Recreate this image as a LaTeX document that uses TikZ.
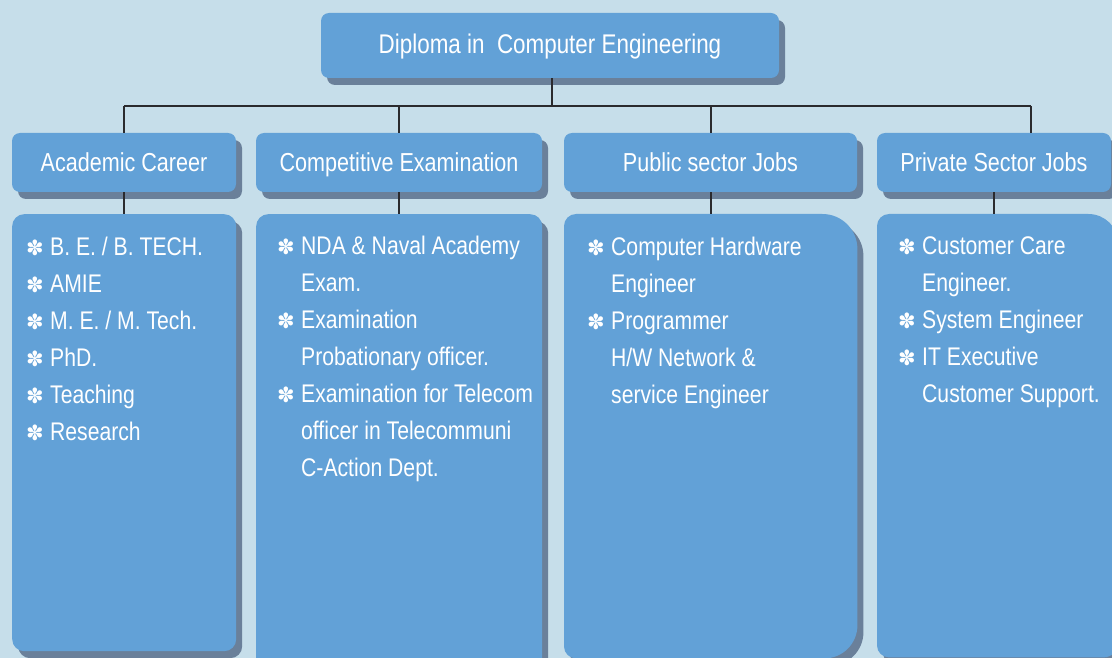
\documentclass[tikz,border=0pt]{standalone}
\usepackage{fontspec}
\setmainfont{Liberation Sans}[FakeStretch=0.83]
\newfontfamily\bulfont{DejaVu Sans}
\usetikzlibrary{shadows,backgrounds}
\definecolor{bgc}{HTML}{C6DEEA}
\definecolor{boxc}{HTML}{62A1D7}
\definecolor{shc}{HTML}{6A809A}
\definecolor{linec}{HTML}{2A2A2E}
\newcommand\mystrut{\rule[-10pt]{0pt}{26pt}}
\newcommand\bl{\mystrut\makebox[24pt][l]{\hspace*{0pt}\bulfont\fontsize{21}{21}\selectfont\raisebox{0pt}{✽}}}
\newcommand\ind{\mystrut\hspace*{24pt}}
\tikzset{
  shad/.style={drop shadow={shadow xshift=6pt,shadow yshift=-7pt,fill=shc,opacity=1}},
  hdr/.style={rounded corners=8pt, fill=boxc, text=white, inner sep=0pt,
    minimum height=59pt, font=\fontsize{26}{30}\selectfont,
    text height=19pt, text depth=0pt, shad},
  topbox/.style={hdr, minimum height=65pt, font=\fontsize{27}{30}\selectfont,
    text height=16pt},
  cbox/.style={rounded corners=12pt, fill=boxc, inner sep=0pt, anchor=north west, shad},
  cfree/.style={inner sep=0pt, anchor=north west},
  txt/.style={text=white, inner sep=0pt, anchor=north west, align=left,
    font=\fontsize{25.5}{37}\selectfont},
  conn/.style={draw=linec, line width=2pt}
}
\begin{document}
\begin{tikzpicture}[x=1pt,y=-1pt]
\begin{pgfonlayer}{background}
\fill[bgc] (0,0) rectangle (1112,658);
\end{pgfonlayer}
\useasboundingbox (0,0) rectangle (1112,658);

% top box
\node[topbox, minimum width=458pt] (top) at (550,45.5) {Diploma in\ \ Computer Engineering};

% header boxes
\node[hdr, minimum width=224pt] (h1) at (124,162.5) {Academic Career};
\node[hdr, minimum width=286pt] (h2) at (399,162.5) {Competitive Examination};
\node[hdr, minimum width=293pt] (h3) at (710.5,162.5) {Public sector Jobs};
\node[hdr, minimum width=234pt] (h4) at (994,162.5) {Private Sector Jobs};

% content boxes
\node[cbox, minimum width=224pt, minimum height=437pt] (c1) at (12,214) {};
\node[cbox, minimum width=286pt, minimum height=470pt] (c2) at (256,214) {};
\node[cfree, minimum width=293pt, minimum height=444pt] (c3) at (564,214) {};
\node[cfree, minimum width=241pt, minimum height=443pt] (c4) at (877,214) {};

\begin{pgfonlayer}{background}
\fill[shc, transform canvas={xshift=6pt,yshift=-7pt}]
  (c3.west) [rounded corners=12pt] |- (c3.north) [rounded corners=35pt] -| (c3.east)
  [rounded corners=33pt] |- (c3.south) [rounded corners=12pt] -| (c3.west);
\fill[boxc]
  (c3.west) [rounded corners=12pt] |- (c3.north) [rounded corners=35pt] -| (c3.east)
  [rounded corners=33pt] |- (c3.south) [rounded corners=12pt] -| (c3.west);
\fill[shc, transform canvas={xshift=6pt,yshift=-7pt}]
  (c4.west) [rounded corners=12pt] |- (c4.north) [rounded corners=30pt] -| (c4.east)
  [rounded corners=15pt] |- (c4.south) [rounded corners=12pt] -| (c4.west);
\fill[boxc]
  (c4.west) [rounded corners=12pt] |- (c4.north) [rounded corners=30pt] -| (c4.east)
  [rounded corners=15pt] |- (c4.south) [rounded corners=12pt] -| (c4.west);
\end{pgfonlayer}

% texts
\node[txt] (t1) at ([shift={(14,23)}]c1.north west) {%
\bl B. E. / B. TECH.\\ \bl AMIE\\ \bl M. E. / M. Tech.\\ \bl PhD.\\ \bl Teaching\\ \bl Research};
\node[txt] (t2) at ([shift={(21,22)}]c2.north west) {%
\bl NDA \& Naval Academy\\ \ind Exam.\\ \bl Examination\\ \ind Probationary officer.\\
\bl Examination for Telecom\\ \ind officer in Telecommuni\\ \ind C-Action Dept.};
\node[txt] (t3) at ([shift={(23,23)}]c3.north west) {%
\bl Computer Hardware\\ \ind Engineer\\ \bl Programmer\\ \ind H/W Network \&\\ \ind service Engineer};
\node[txt] (t4) at ([shift={(21,22)}]c4.north west) {%
\bl Customer Care\\ \ind Engineer.\\ \bl System Engineer\\ \bl IT Executive\\ \ind Customer Support.};

% connectors
\coordinate (busy) at (0,106);
\coordinate (d4) at (1031,106);
\draw[conn] ([xshift=1.5pt]top.south) -- ([xshift=1.5pt]top.south |- busy);
\draw[conn] (h1.north |- busy) -- (d4);
\draw[conn] (h1.north |- busy) -- (h1.north);
\draw[conn] (h2.north |- busy) -- (h2.north);
\draw[conn] (h3.north |- busy) -- (h3.north);
\draw[conn] (d4) -- (d4 |- h4.north);
\draw[conn] (h1.south) -- (h1.south |- c1.north);
\draw[conn] (h2.south) -- (h2.south |- c2.north);
\draw[conn] (h3.south) -- (h3.south |- c3.north);
\draw[conn] (h4.south) -- (h4.south |- c4.north);
\end{tikzpicture}
\end{document}
